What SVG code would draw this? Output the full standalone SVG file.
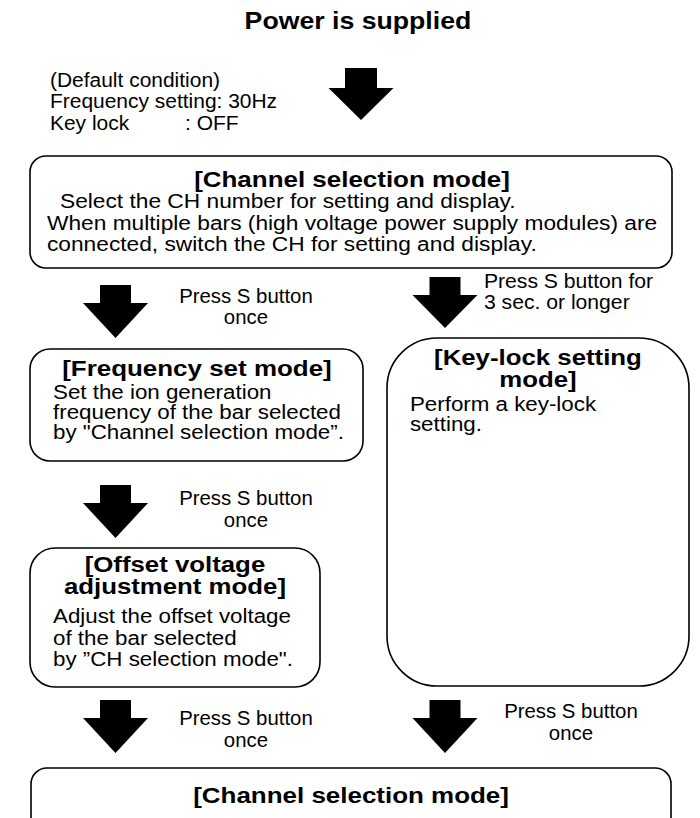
<svg xmlns="http://www.w3.org/2000/svg" width="700" height="818" viewBox="0 0 700 818">
<defs>
<style>
text { font-family: "Liberation Sans", Arial, sans-serif; fill: #000; }
.r { font-size: 19.6px; }
.b { font-size: 22px; font-weight: bold; }
.b2 { font-size: 21.5px; font-weight: bold; }
.h { font-size: 23px; font-weight: bold; }
.m { text-anchor: middle; }
.box { fill: #fff; stroke: #000; stroke-width: 1.6; }
.arr { fill: #000; stroke: none; }
</style>
</defs>
<rect width="700" height="818" fill="#fff"/>

<g id="title">
<text class="h m" x="308.6" y="29" transform="scale(1.16 1)">Power is supplied</text>
</g>

<g id="defaults">
<text class="r" x="46.7" y="87" transform="scale(1.07 1)">(Default condition)</text>
<text class="r" x="46.7" y="108" transform="scale(1.07 1)">Frequency setting: 30Hz</text>
<text class="r" x="46.7" y="130" transform="scale(1.07 1)">Key lock</text>
<text class="r" x="172.9" y="130" transform="scale(1.07 1)">: OFF</text>
</g>

<g id="connectors">
<path class="arr" d="M345,68 H377 V88 H393.5 L361,120 L328.5,88 H345 Z"/>
<path class="arr" d="M100,285 H131 V303 H148 L115.5,338 L83,303 H100 Z"/>
<path class="arr" d="M429.5,277 H460.5 V295 H477.5 L445,328 L412.5,295 H429.5 Z"/>
<path class="arr" d="M100,485 H131 V503 H148 L115.5,538 L83,503 H100 Z"/>
<path class="arr" d="M100,700 H131 V718 H148 L115.5,753 L83,718 H100 Z"/>
<path class="arr" d="M429.5,700 H460.5 V718 H477.5 L445,753 L412.5,718 H429.5 Z"/>
<g id="labels">
<text class="r m" x="236.5" y="303" transform="scale(1.04 1)">Press S button</text>
<text class="r m" x="236.5" y="324" transform="scale(1.04 1)">once</text>
<text class="r" x="448.1" y="288" transform="scale(1.08 1)">Press S button for</text>
<text class="r" x="448.1" y="309" transform="scale(1.08 1)">3 sec. or longer</text>
<text class="r m" x="236.5" y="505" transform="scale(1.04 1)">Press S button</text>
<text class="r m" x="236.5" y="527" transform="scale(1.04 1)">once</text>
<text class="r m" x="236.5" y="725" transform="scale(1.04 1)">Press S button</text>
<text class="r m" x="236.5" y="747" transform="scale(1.04 1)">once</text>
<text class="r m" x="549" y="718" transform="scale(1.04 1)">Press S button</text>
<text class="r m" x="549" y="740" transform="scale(1.04 1)">once</text>
</g>
</g>

<g id="channel-selection">
<rect class="box" x="30" y="156" width="642" height="112" rx="16" ry="16"/>
<text class="b m" x="298.3" y="187" transform="scale(1.18 1)">[Channel selection mode]</text>
<text class="r" x="51.7" y="208" transform="scale(1.16 1)">Select the CH number for setting and display.</text>
<text class="r" x="40.5" y="230" transform="scale(1.16 1)">When multiple bars (high voltage power supply modules) are</text>
<text class="r" x="40.5" y="251" transform="scale(1.16 1)">connected, switch the CH for setting and display.</text>
</g>

<g id="frequency-set">
<rect class="box" x="30" y="349" width="333" height="112" rx="20" ry="20"/>
<text class="b m" x="166.9" y="376" transform="scale(1.18 1)">[Frequency set mode]</text>
<text class="r" x="46.5" y="399" transform="scale(1.14 1)">Set the ion generation</text>
<text class="r" x="46.5" y="419" transform="scale(1.14 1)">frequency of the bar selected</text>
<text class="r" x="46.5" y="439" transform="scale(1.14 1)">by "Channel selection mode”.</text>
</g>

<g id="key-lock-setting">
<rect class="box" x="387" y="338" width="302" height="348" rx="50" ry="50"/>
<text class="b2 m" x="448.3" y="365" transform="scale(1.2 1)">[Key-lock setting</text>
<text class="b2 m" x="448.3" y="387" transform="scale(1.2 1)">mode]</text>
<text class="r" x="359.6" y="411" transform="scale(1.14 1)">Perform a key-lock</text>
<text class="r" x="359.6" y="431" transform="scale(1.14 1)">setting.</text>
</g>

<g id="offset-voltage">
<rect class="box" x="30" y="548" width="290" height="139" rx="25" ry="25"/>
<text class="b2 m" x="145.8" y="572" transform="scale(1.2 1)">[Offset voltage</text>
<text class="b2 m" x="145.8" y="594" transform="scale(1.2 1)">adjustment mode]</text>
<text class="r" x="46.5" y="623" transform="scale(1.14 1)">Adjust the offset voltage</text>
<text class="r" x="46.5" y="645" transform="scale(1.14 1)">of the bar selected</text>
<text class="r" x="46.5" y="666" transform="scale(1.14 1)">by ”CH selection mode".</text>
</g>

<g id="channel-selection-end">
<rect class="box" x="31" y="768" width="640" height="80" rx="16" ry="16"/>
<text class="b m" x="297.5" y="803" transform="scale(1.18 1)">[Channel selection mode]</text>
</g>
</svg>
